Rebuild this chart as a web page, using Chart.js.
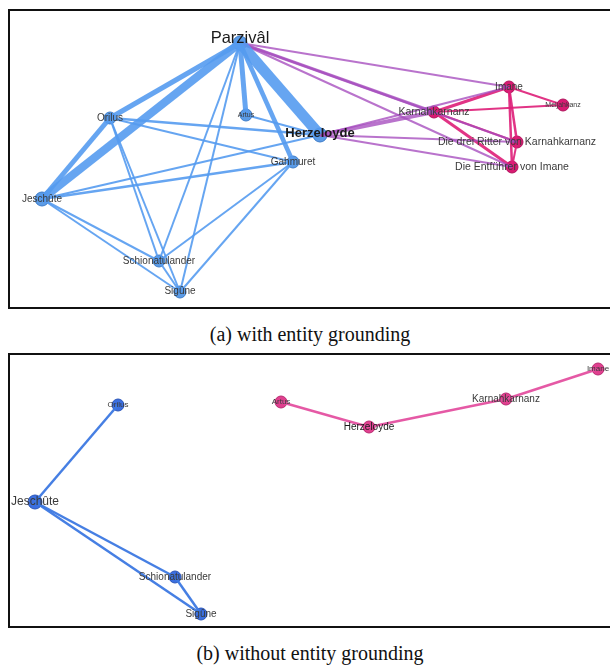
<!DOCTYPE html>
<html>
<head>
<meta charset="utf-8">
<script src="https://cdn.jsdelivr.net/npm/chart.js@4"></script>
<style>
  body { margin: 0; background: #fff; width: 610px; height: 666px; overflow: hidden; position: relative; }
  .panel { position: absolute; left: 8px; width: 640px; border: 2px solid #111; border-right: none; }
  #pa { top: 9px; height: 296px; }
  #pb { top: 353px; height: 271px; }
  canvas { position: absolute; left: 0; top: 0; }
  .cap { position: absolute; left: 0; width: 620px; text-align: center; font-family: "Liberation Serif", "Times New Roman", serif; font-size: 20px; color: #111; }
</style>
</head>
<body>
<div class="panel" id="pa"><canvas id="ga" width="600" height="296"></canvas></div>
<div class="cap" style="top:323px">(a) with entity grounding</div>
<div class="panel" id="pb"><canvas id="gb" width="600" height="271"></canvas></div>
<div class="cap" style="top:642px">(b) without entity grounding</div>
<script>
// graph (a): with entity grounding
var aNames = ['Parzivâl', 'Orilus', 'Artus', 'Herzeloyde', 'Gahmuret', 'Jeschûte', 'Schionatulander', 'Sigûne',
              'Imane', 'Karnahkarnanz', 'Meljahkanz', 'Die drei Ritter von Karnahkarnanz', 'Die Entführer von Imane'];
var aX = [230, 100, 236, 310, 283, 32, 149, 170, 499, 424, 553, 507, 502];
var aY = [32, 107, 104, 124, 151, 188, 250, 281, 76, 101, 94, 131, 156];
var aGroup = [0, 0, 0, 0, 0, 0, 0, 0, 1, 1, 1, 1, 1];
var aFrom   = [0, 0, 0, 0, 0, 0, 0, 1, 1, 1, 1, 1, 2, 5, 5, 5, 5, 4, 4, 6,
               0, 0, 0, 0, 3, 3, 3, 3, 9,
               9, 9, 9, 8, 8, 8, 11];
var aTo     = [1, 5, 2, 3, 4, 6, 7, 5, 3, 4, 6, 7, 3, 3, 4, 6, 7, 6, 7, 7,
               8, 9, 11, 12, 9, 8, 11, 12, 11,
               8, 10, 12, 10, 11, 12, 12];
var aWeight = [5, 8, 5, 11, 4.5, 2, 2, 5, 2.5, 2, 2, 2, 2, 2, 2.5, 2, 2, 2, 2, 2,
               2, 3, 2, 2, 4, 2, 2, 2, 2,
               3, 2, 3, 2, 2.5, 2.5, 2];

// graph (b): without entity grounding
var bNames = ['Orilus', 'Jeschûte', 'Schionatulander', 'Sigûne', 'Artus', 'Herzeloyde', 'Karnahkarnanz', 'Imane'];
var bX = [108, 25, 165, 191, 271, 359, 496, 588];
var bY = [50, 147, 222, 259, 47, 72, 44, 14];
var bGroup = [0, 0, 0, 0, 1, 1, 1, 1];
var bFrom   = [0, 1, 1, 2, 4, 5, 6];
var bTo     = [1, 2, 3, 3, 5, 6, 7];
var bWeight = [2.5, 2.5, 2.5, 2.5, 2.5, 2.5, 2.5];

var labelFont = {
  'Parzivâl': '16.5px "Liberation Sans"',
  'Herzeloyde': 'bold 13px "Liberation Sans"',
  'Artus': '7px "Liberation Sans"',
  'Meljahkanz': '7px "Liberation Sans"',
  'Karnahkarnanz': '10.5px "Liberation Sans"',
  'Die drei Ritter von Karnahkarnanz': '10.5px "Liberation Sans"',
  'Die Entführer von Imane': '10.5px "Liberation Sans"'
};
var labelFontB = {
  'Jeschûte': '12px "Liberation Sans"',
  'Orilus': '8px "Liberation Sans"',
  'Artus': '8px "Liberation Sans"',
  'Imane': '8px "Liberation Sans"'
};

function nodeLabels(names, fonts, shift) {
  return {
    id: 'nodeLabels',
    afterDatasetsDraw: function (chart) {
      var ctx = chart.ctx;
      var meta = chart.getDatasetMeta(chart.data.datasets.length - 1);
      ctx.save();
      ctx.textAlign = 'center';
      ctx.textBaseline = 'middle';
      meta.data.forEach(function (pt, i) {
        var n = names[i];
        ctx.font = fonts[n] || '10px "Liberation Sans"';
        ctx.fillStyle = n === 'Herzeloyde' || n === 'Parzivâl' ? '#1a1a1a' : '#3a3a3a';
        var dy = (shift[n] || 0);
        ctx.fillText(n, pt.x, pt.y + dy);
      });
      ctx.restore();
    }
  };
}

function buildGraph(id, names, xs, ys, groups, from, to, weight, opt) {
  var datasets = [];
  for (var k = 0; k < from.length; k++) {
    var g1 = groups[from[k]], g2 = groups[to[k]];
    var col = g1 === g2 ? opt.edge[g1] : opt.mixed;
    datasets.push({
      data: [{ x: xs[from[k]], y: ys[from[k]] }, { x: xs[to[k]], y: ys[to[k]] }],
      showLine: true,
      borderColor: col,
      borderWidth: weight[k],
      pointRadius: 0,
      pointHoverRadius: 0,
      clip: false
    });
  }
  datasets.push({
    data: xs.map(function (x, i) { return { x: x, y: ys[i] }; }),
    pointRadius: names.map(function (n) { return opt.radius[n] || opt.r; }),
    backgroundColor: groups.map(function (g) { return opt.node[g]; }),
    borderColor: groups.map(function (g) { return opt.nodeBorder[g]; }),
    borderWidth: 1,
    clip: false
  });
  var c = document.getElementById(id);
  return new Chart(c, {
    type: 'scatter',
    data: { datasets: datasets },
    options: {
      responsive: false,
      animation: false,
      layout: { padding: 0, autoPadding: false },
      plugins: { legend: { display: false }, tooltip: { enabled: false } },
      scales: {
        x: { type: 'linear', display: false, min: 0, max: c.width },
        y: { type: 'linear', display: false, min: 0, max: c.height, reverse: true }
      }
    },
    plugins: [nodeLabels(names, opt.fonts, opt.shift)]
  });
}

var graphA = buildGraph('ga', aNames, aX, aY, aGroup, aFrom, aTo, aWeight, {
  edge: ['rgba(85,155,240,0.9)', 'rgba(222,30,120,0.9)'],
  mixed: 'rgba(165,75,190,0.78)',
  node: ['#5b9be6', '#d81b72'],
  nodeBorder: ['#3d7cc8', '#b0145c'],
  r: 6,
  radius: { 'Parzivâl': 7, 'Herzeloyde': 7, 'Jeschûte': 7 },
  fonts: labelFont,
  shift: { 'Parzivâl': -5, 'Herzeloyde': -2, 'Sigûne': -1 }
});

var graphB = buildGraph('gb', bNames, bX, bY, bGroup, bFrom, bTo, bWeight, {
  edge: ['rgba(60,120,225,0.95)', 'rgba(228,80,160,0.95)'],
  mixed: 'rgba(165,75,190,0.75)',
  node: ['#3b6fe0', '#e0408f'],
  nodeBorder: ['#2a55b8', '#b82a70'],
  r: 6,
  radius: { 'Jeschûte': 7 },
  fonts: labelFontB,
  shift: {}
});
</script>
</body>
</html>
